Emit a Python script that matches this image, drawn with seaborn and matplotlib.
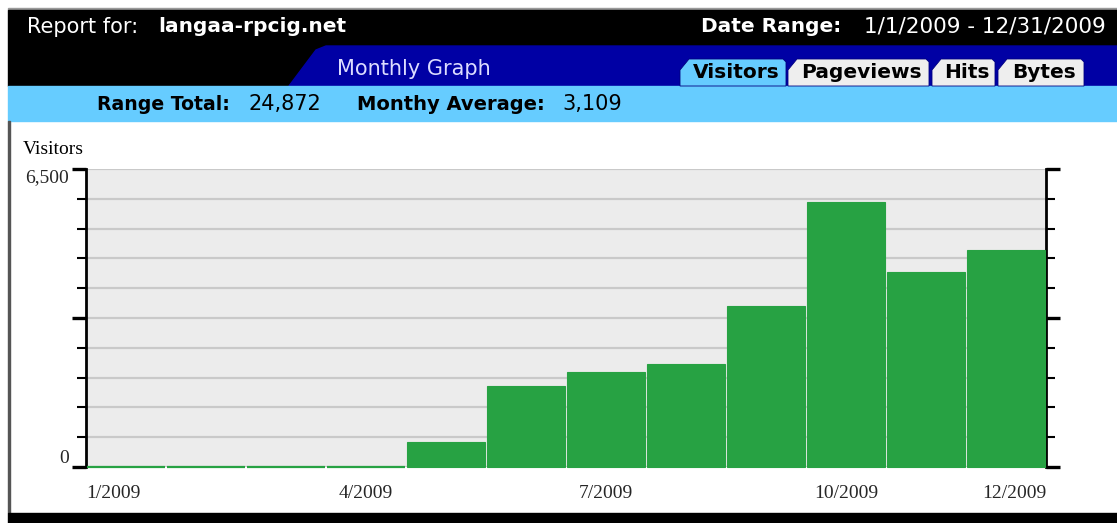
import numpy as np
import pandas as pd
import matplotlib
matplotlib.use("Agg")
import matplotlib.pyplot as plt
from matplotlib.patches import Rectangle, Polygon
from matplotlib.ticker import MultipleLocator
import seaborn as sns

sns.set_theme(style="white")

# datos (visitantes por mes, 2009)
months = ["1/2009", "2/2009", "3/2009", "4/2009", "5/2009", "6/2009",
          "7/2009", "8/2009", "9/2009", "10/2009", "11/2009", "12/2009"]
visitors = [0, 0, 0, 0, 540, 1760, 2070, 2240, 3510, 5770, 4250, 4732]
shown_ticks = ["1/2009", "4/2009", "7/2009", "10/2009", "12/2009"]
site = "langaa-rpcig.net"
date_range = "1/1/2009 - 12/31/2009"
range_total = "24,872"
monthly_avg = "3,109"
tabs = ["Visitors", "Pageviews", "Hits", "Bytes"]

df = pd.DataFrame({"month": months, "visitors": visitors})

W, H = 1117, 523
fig = plt.figure(figsize=(W / 100, H / 100), dpi=100)
fig.patch.set_facecolor("white")

# capa de fondo en coordenadas de pixel
bg = fig.add_axes([0, 0, 1, 1])
bg.set_xlim(0, W)
bg.set_ylim(H, 0)
bg.axis("off")

sans = "DejaVu Sans"
serif = "Liberation Serif"

bg.add_patch(Rectangle((8, 8), W - 8, 2, color="#9a9a9a"))
bg.add_patch(Rectangle((8, 10), W - 8, 76, color="black"))
bg.add_patch(Polygon([(289, 86), (316, 50), (326, 46), (W, 46), (W, 86)],
                     closed=True, color="#0000a4"))
bg.add_patch(Rectangle((8, 86), W - 8, 35, color="#66ccff"))
bg.add_patch(Rectangle((8, 121), 2, 392, color="#555555"))
bg.add_patch(Rectangle((8, 513), W - 8, 10, color="black"))

# pestañas
tab_x = [(680, 786), (788, 929), (932, 995), (998, 1084)]
tab_col = ["#66ccff", "#eeeeee", "#eeeeee", "#eeeeee"]
for (x0, x1), c, t in zip(tab_x, tab_col, tabs):
    pts = [(x0, 86), (x0, 70), (x0 + 9, 59), (x1 - 3, 59), (x1, 62), (x1, 86)]
    bg.add_patch(Polygon(pts, closed=True, facecolor=c, edgecolor="#000080", lw=0.6))
    bg.text((x0 + x1) / 2 + 3, 73, t, ha="center", va="center", fontsize=14.5,
            fontweight="bold", family=sans, color="black")

bg.text(27, 27, "Report for:", ha="left", va="center", fontsize=15,
        family=sans, color="white")
bg.text(158, 27, site, ha="left", va="center", fontsize=14.5,
        family=sans, color="white", fontweight="bold")
bg.text(841, 27, "Date Range:", ha="right", va="center", fontsize=14.5,
        family=sans, color="white", fontweight="bold")
bg.text(1106, 27, date_range, ha="right", va="center", fontsize=15.5,
        family=sans, color="white")
bg.text(337, 69, "Monthly Graph", ha="left", va="center", fontsize=15,
        family=sans, color="#dcdcff")
bg.text(97, 104, "Range Total:", ha="left", va="center", fontsize=13.6,
        family=sans, color="black", fontweight="bold")
bg.text(248, 104, range_total, ha="left", va="center", fontsize=15,
        family=sans, color="black")
bg.text(357, 104, "Monthy Average:", ha="left", va="center", fontsize=14,
        family=sans, color="black", fontweight="bold")
bg.text(562, 104, monthly_avg, ha="left", va="center", fontsize=15,
        family=sans, color="black")
bg.text(23, 150, "Visitors", ha="left", va="center", fontsize=14,
        family=serif, color="black")

# grafico de barras
x0, x1, ytop, ybot = 86, 1046, 169, 467
ax = fig.add_axes([x0 / W, 1 - ybot / H, (x1 - x0) / W, (ybot - ytop) / H])
ax.set_facecolor("#ececec")
sns.barplot(data=df, x="month", y="visitors", color="#27a243", saturation=1,
            width=0.97, edgecolor="#27a243", linewidth=0.8, ax=ax, zorder=3)
# los meses sin visitas se ven como una linea fina sobre la base
for bar in ax.patches:
    bar.set_clip_on(False)
    if bar.get_height() == 0:
        bar.set_linewidth(1.6)
ax.set_xlim(-0.5, len(months) - 0.5)
ax.set_ylim(0, 6500)
ax.set_xlabel("")
ax.set_ylabel("")

ax.yaxis.set_major_locator(MultipleLocator(3250))
ax.yaxis.set_minor_locator(MultipleLocator(650))
ax.grid(True, which="both", axis="y", color="#c9c9c9", lw=1.6, zorder=0)
ax.set_axisbelow(True)
ax.tick_params(axis="y", which="major", direction="out", length=10, width=2.4,
               color="black", left=True, right=True, labelleft=True,
               labelsize=14, pad=2)
ax.tick_params(axis="y", which="minor", direction="out", length=6.5, width=1.5,
               color="black", left=True, right=True)
ax.set_yticks([0, 3250, 6500], labels=["0", "", "6,500"])
for lab in ax.get_yticklabels():
    lab.set_family(serif)
    if lab.get_text() == "0":
        lab.set_va("bottom")
    else:
        lab.set_va("top")

# primera y ultima etiqueta pegadas a los bordes, como en el original
pos = [months.index(m) for m in shown_ticks]
pos[0] = pos[0] - 0.5
pos[-1] = pos[-1] + 0.5
ax.set_xticks(pos, labels=shown_ticks)
ax.tick_params(axis="x", length=0, labelsize=14, pad=13)
for lab in ax.get_xticklabels():
    lab.set_family(serif)
ax.get_xticklabels()[0].set_ha("left")
ax.get_xticklabels()[-1].set_ha("right")

for s in ["top", "bottom"]:
    ax.spines[s].set_visible(False)
for s in ["left", "right"]:
    ax.spines[s].set_color("black")
    ax.spines[s].set_linewidth(2)

fig.savefig("out.png", dpi=100)
